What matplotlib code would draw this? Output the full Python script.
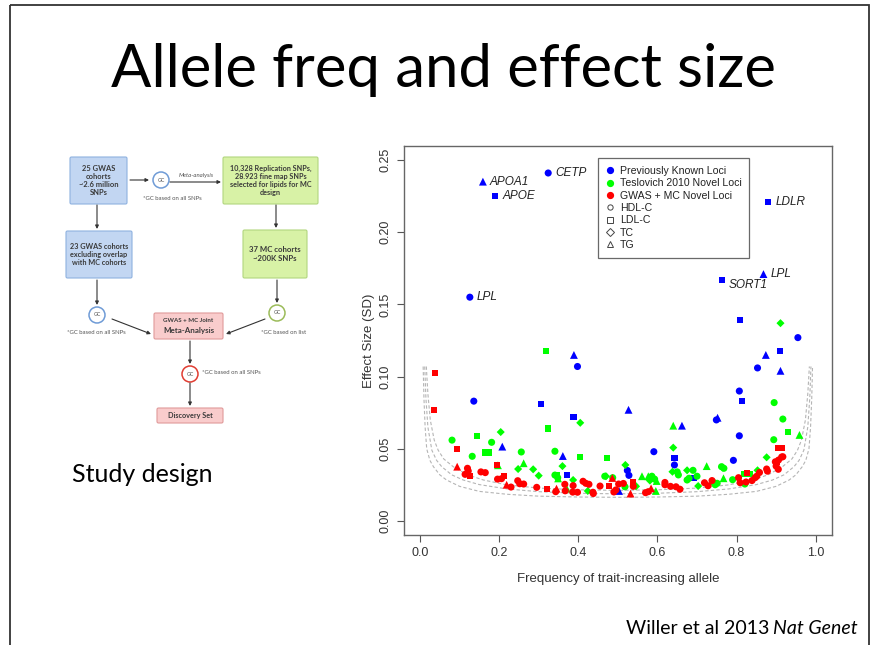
import numpy as np
import matplotlib.pyplot as plt
from matplotlib.patches import FancyBboxPatch, Circle, Rectangle
from matplotlib.lines import Line2D

# ---------------------------------------------------------------
# SNP data: frequency of trait-increasing allele, effect size (SD), trait
# ---------------------------------------------------------------
known_freq = [0.159, 0.190, 0.324, 0.880, 0.763, 0.868, 0.126, 0.389, 0.398, 0.136,
              0.305, 0.388, 0.808, 0.955, 0.874, 0.910, 0.853, 0.911, 0.807, 0.813,
              0.527, 0.662, 0.749, 0.752, 0.807, 0.208, 0.361, 0.591, 0.643, 0.643,
              0.792, 0.371, 0.524, 0.528, 0.693, 0.503]
known_beta = [0.235, 0.225, 0.241, 0.221, 0.167, 0.171, 0.155, 0.115, 0.107, 0.083,
              0.081, 0.072, 0.139, 0.127, 0.115, 0.118, 0.106, 0.104, 0.090, 0.083,
              0.077, 0.066, 0.070, 0.0715, 0.059, 0.0515, 0.045, 0.048, 0.0436, 0.0388,
              0.042, 0.032, 0.035, 0.0316, 0.030, 0.0208]
known_trait = ['TG', 'LDL', 'HDL', 'LDL', 'LDL', 'TG', 'HDL', 'TG', 'HDL', 'HDL',
               'LDL', 'LDL', 'LDL', 'HDL', 'TG', 'LDL', 'HDL', 'TG', 'HDL', 'LDL',
               'TG', 'TG', 'HDL', 'TG', 'HDL', 'TG', 'TG', 'HDL', 'LDL', 'HDL',
               'HDL', 'LDL', 'HDL', 'HDL', 'LDL', 'TG']
gene_labels = ['APOA1', 'APOE', 'CETP', 'LDLR', 'SORT1', 'LPL', 'LPL']

tes_freq = [0.318, 0.405, 0.323, 0.640, 0.895, 0.917, 0.911, 0.930, 0.959, 0.894,
            0.640, 0.876, 0.081, 0.145, 0.204, 0.181, 0.132, 0.165, 0.173, 0.256,
            0.341, 0.404, 0.472, 0.197, 0.262, 0.248, 0.286, 0.300, 0.341, 0.348,
            0.345, 0.349, 0.360, 0.387, 0.371, 0.424, 0.467, 0.470, 0.487, 0.519,
            0.518, 0.542, 0.546, 0.561, 0.577, 0.586, 0.593, 0.598, 0.581, 0.596,
            0.638, 0.650, 0.653, 0.675, 0.690, 0.675, 0.680, 0.700, 0.703, 0.7245,
            0.762, 0.768, 0.765, 0.767, 0.741, 0.751, 0.746, 0.790, 0.821, 0.820,
            0.834, 0.853]
tes_beta = [0.118, 0.068, 0.064, 0.066, 0.082, 0.0706, 0.137, 0.0614, 0.0596, 0.0563,
            0.0508, 0.0441, 0.056, 0.059, 0.0616, 0.0545, 0.0448, 0.0474, 0.0474, 0.0478,
            0.0483, 0.0445, 0.0436, 0.0386, 0.040, 0.036, 0.0358, 0.0314, 0.0318, 0.030,
            0.032, 0.0295, 0.038, 0.0284, 0.0224, 0.0208, 0.031, 0.031, 0.030, 0.0388,
            0.0237, 0.025, 0.024, 0.031, 0.031, 0.031, 0.029, 0.0277, 0.028, 0.0208,
            0.0341, 0.034, 0.0319, 0.0351, 0.0351, 0.0284, 0.0296, 0.031, 0.0242, 0.038,
            0.0376, 0.0365, 0.037, 0.0296, 0.0268, 0.0261, 0.0251, 0.0286, 0.0256, 0.0328,
            0.0328, 0.0351]
tes_trait = ['LDL', 'TC', 'LDL', 'TG', 'HDL', 'HDL', 'TC', 'LDL', 'TG', 'HDL',
             'TC', 'TC', 'HDL', 'LDL', 'TC', 'HDL', 'HDL', 'LDL', 'LDL', 'HDL',
             'HDL', 'LDL', 'LDL', 'TG', 'TG', 'TC', 'TC', 'TC', 'HDL', 'HDL',
             'LDL', 'TG', 'TC', 'TC', 'TG', 'TC', 'HDL', 'TC', 'HDL', 'TC',
             'HDL', 'TC', 'TC', 'TG', 'TG', 'HDL', 'HDL', 'TG', 'TC', 'TG',
             'TC', 'HDL', 'HDL', 'TC', 'HDL', 'HDL', 'HDL', 'HDL', 'TC', 'TG',
             'HDL', 'HDL', 'TC', 'TG', 'HDL', 'HDL', 'HDL', 'HDL', 'HDL', 'LDL',
             'LDL', 'TC']

new_freq = [0.038, 0.035, 0.093, 0.906, 0.915, 0.195, 0.094, 0.120, 0.122, 0.114,
            0.126, 0.154, 0.165, 0.196, 0.206, 0.213, 0.219, 0.230, 0.247, 0.252,
            0.262, 0.295, 0.321, 0.345, 0.343, 0.366, 0.367, 0.387, 0.386, 0.398,
            0.412, 0.419, 0.427, 0.437, 0.438, 0.455, 0.477, 0.490, 0.495, 0.502,
            0.514, 0.486, 0.532, 0.539, 0.539, 0.570, 0.577, 0.584, 0.619, 0.619,
            0.633, 0.647, 0.657, 0.719, 0.728, 0.738, 0.805, 0.809, 0.824, 0.827,
            0.839, 0.847, 0.851, 0.858, 0.876, 0.878, 0.898, 0.906, 0.914, 0.900,
            0.9055, 0.917, 0.901]
new_beta = [0.1027, 0.0767, 0.050, 0.0506, 0.0506, 0.039, 0.0376, 0.0365, 0.0346, 0.0323,
            0.0312, 0.034, 0.0335, 0.029, 0.0293, 0.0314, 0.0251, 0.0235, 0.0279, 0.0258,
            0.0256, 0.0233, 0.0224, 0.0224, 0.0203, 0.0254, 0.0209, 0.0245, 0.020, 0.0199,
            0.0275, 0.0261, 0.0254, 0.0199, 0.019, 0.0242, 0.0242, 0.0201, 0.0215, 0.0256,
            0.026, 0.0298, 0.019, 0.027, 0.024, 0.0196, 0.0203, 0.0226, 0.0267, 0.0251,
            0.024, 0.0237, 0.022, 0.0265, 0.0244, 0.028, 0.030, 0.0265, 0.027, 0.033,
            0.028, 0.030, 0.031, 0.0336, 0.036, 0.0345, 0.041, 0.0422, 0.0443, 0.038,
            0.0358, 0.0445, 0.041]
new_trait = ['LDL', 'LDL', 'LDL', 'LDL', 'LDL', 'LDL', 'TG', 'HDL', 'HDL', 'HDL',
             'LDL', 'HDL', 'HDL', 'HDL', 'HDL', 'LDL', 'TG', 'HDL', 'HDL', 'HDL',
             'HDL', 'HDL', 'LDL', 'TG', 'HDL', 'HDL', 'HDL', 'HDL', 'HDL', 'HDL',
             'HDL', 'HDL', 'HDL', 'HDL', 'HDL', 'HDL', 'LDL', 'HDL', 'HDL', 'HDL',
             'HDL', 'TG', 'TG', 'LDL', 'HDL', 'HDL', 'HDL', 'TG', 'HDL', 'HDL',
             'HDL', 'HDL', 'HDL', 'HDL', 'HDL', 'HDL', 'HDL', 'HDL', 'HDL', 'LDL',
             'HDL', 'HDL', 'HDL', 'HDL', 'HDL', 'HDL', 'HDL', 'HDL', 'HDL', 'HDL',
             'HDL', 'HDL', 'LDL']

# detectable effect size curves, left half (right half is the mirror image)
curve_outer_freq = [0.008, 0.010, 0.013, 0.017, 0.025, 0.034, 0.05, 0.067, 0.10, 0.15, 0.22, 0.30, 0.40, 0.50]
curve_outer_beta = [0.107, 0.085, 0.065, 0.050, 0.042, 0.0376, 0.032, 0.0284, 0.024, 0.0205, 0.0185, 0.0172, 0.0166, 0.0164]
curve_mid_freq = [0.012, 0.015, 0.020, 0.030, 0.042, 0.055, 0.080, 0.109, 0.15, 0.22, 0.30, 0.40, 0.50]
curve_mid_beta = [0.107, 0.085, 0.065, 0.049, 0.042, 0.0376, 0.032, 0.0284, 0.0252, 0.0222, 0.0203, 0.0192, 0.0188]
curve_inner_freq = [0.016, 0.020, 0.026, 0.036, 0.046, 0.060, 0.084, 0.12, 0.16, 0.22, 0.30, 0.40, 0.50]
curve_inner_beta = [0.107, 0.088, 0.070, 0.056, 0.049, 0.043, 0.0376, 0.032, 0.0284, 0.025, 0.0228, 0.0216, 0.0212]

group_names = ['Previously Known Loci', 'Teslovich 2010 Novel Loci', 'GWAS + MC Novel Loci']
group_colors = ['#0000ff', '#00ff00', '#ff0000']
trait_names = ['HDL-C', 'LDL-C', 'TC', 'TG']
trait_marker = {'HDL': 'o', 'LDL': 's', 'TC': 'D', 'TG': '^'}
trait_size = {'HDL': 26, 'LDL': 20, 'TC': 17, 'TG': 32}

plot_font = 'Liberation Sans'
slide_font = 'Lato'

fig = plt.figure(figsize=(8.72, 6.45), dpi=100)

# slide layer in pixel coordinates
bg = fig.add_axes([0, 0, 1, 1])
bg.set_xlim(0, 872)
bg.set_ylim(645, 0)
bg.axis('off')
bg.add_patch(Rectangle((10, 5), 859, 660, fill=False, lw=1.3, ec='#333333'))

bg.text(443, 70, 'Allele freq and effect size', ha='center', va='center',
        fontsize=43, family=slide_font, color='black')
bg.text(72, 474, 'Study design', ha='left', va='center', fontsize=18,
        family=slide_font, color='black')

# citation: italic journal name right-aligned, plain part placed just before it
journal = bg.text(858, 628, 'Nat Genet', ha='right', va='center', fontsize=14,
                  family=slide_font, style='italic', color='black')
renderer = fig.canvas.get_renderer()
jx0 = journal.get_window_extent(renderer).x0
cite_x = bg.transData.inverted().transform((jx0 - 4, 0))[0]
bg.text(cite_x, 628, 'Willer et al 2013', ha='right', va='center', fontsize=14,
        family=slide_font, color='black')

# --- study design flowchart ---
box_style = {
    'blue': ('#c2d6f2', '#8fb2e0'),
    'green': ('#d8f2a6', '#b2d67f'),
    'pink': ('#f9cccc', '#e09a9a'),
}


def box(x0, y0, x1, y1, kind, label, size=5.2):
    fc, ec = box_style[kind]
    bg.add_patch(FancyBboxPatch((x0, y0), x1 - x0, y1 - y0,
                                boxstyle='round,pad=0,rounding_size=1.5',
                                fc=fc, ec=ec, lw=0.8))
    if label:
        bg.text((x0 + x1) / 2, (y0 + y1) / 2, label, ha='center', va='center',
                fontsize=size, fontweight='bold', color='#3a3a3a',
                family=slide_font, linespacing=1.2)


def gc(x, y, ec):
    bg.add_patch(Circle((x, y), 8, fc='white', ec=ec, lw=1.1))
    bg.text(x, y, 'GC', ha='center', va='center', fontsize=3.8, color='#555555',
            family=slide_font)


def arrow(x0, y0, x1, y1):
    bg.annotate('', xy=(x1, y1), xytext=(x0, y0),
                arrowprops=dict(arrowstyle='-|>', color='#333333', lw=0.8,
                                mutation_scale=5, shrinkA=0, shrinkB=0))


def note(x, y, s, ha='center'):
    bg.text(x, y, s, ha=ha, va='center', fontsize=4.3, color='#555555',
            family=slide_font)


box(70, 157, 127, 204, 'blue', '25 GWAS\ncohorts\n~2.6 million\nSNPs', size=5.4)
box(223, 157, 318, 204, 'green',
    '10,328 Replication SNPs,\n28.923 fine map SNPs\nselected for lipids for MC\ndesign')
box(66, 231, 132, 278, 'blue', '23 GWAS cohorts\nexcluding overlap\nwith MC cohorts')
box(243, 230, 307, 278, 'green', '37 MC cohorts\n~200K SNPs', size=5.6)
box(154, 313, 223, 339, 'pink', '')
bg.text(188.5, 321, 'GWAS + MC Joint', ha='center', va='center', fontsize=4.4,
        fontweight='bold', color='#3a3a3a', family=slide_font)
bg.text(188.5, 331, 'Meta-Analysis', ha='center', va='center', fontsize=5.8,
        fontweight='bold', color='#3a3a3a', family=slide_font)
box(157, 408, 223, 423, 'pink', 'Discovery Set', size=5.2)

gc(161, 180, '#6f9bd6')
gc(97, 315, '#6f9bd6')
gc(277, 313, '#9bbb59')
gc(190, 374, '#e03c31')

arrow(130, 180, 149, 180)
arrow(170, 182, 221, 182)
arrow(97, 205, 97, 229)
arrow(276, 205, 276, 228)
arrow(97, 280, 97, 305)
arrow(277, 280, 277, 303)
arrow(112, 319, 151, 334)
arrow(265, 319, 226, 334)
arrow(190, 341, 190, 364)
arrow(190, 383, 190, 406)

bg.text(196, 175, 'Meta-analysis', ha='center', va='center', fontsize=4.3,
        style='italic', color='#555555', family=slide_font)
note(172, 198, '*GC based on all SNPs')
note(96, 332, '*GC based on all SNPs')
note(284, 332, '*GC based on list')
note(202, 373, '*GC based on all SNPs', ha='left')

# --- scatter of effect size vs allele frequency ---
ax = fig.add_axes([404 / 872, 110 / 645, 428 / 872, 389 / 645])
ax.set_xlim(-0.0404, 1.0412)
ax.set_ylim(-0.0097, 0.2597)

for f, b in [(curve_outer_freq, curve_outer_beta),
             (curve_mid_freq, curve_mid_beta),
             (curve_inner_freq, curve_inner_beta)]:
    f = np.array(f)
    b = np.array(b)
    xs = np.concatenate([f, 1 - f[::-1][1:]])
    ys = np.concatenate([b, b[::-1][1:]])
    ax.plot(xs, ys, ls=(0, (3, 2)), color='#b5b5b5', lw=0.8, zorder=1)

groups = [(known_freq, known_beta, known_trait),
          (tes_freq, tes_beta, tes_trait),
          (new_freq, new_beta, new_trait)]
for (fr, be, tr), col in zip(groups, group_colors):
    fr = np.array(fr)
    be = np.array(be)
    tr = np.array(tr)
    for t, m in trait_marker.items():
        sel = tr == t
        ax.scatter(fr[sel], be[sel], marker=m, s=trait_size[t], c=col,
                   edgecolors='none', zorder=3)

for i, name in enumerate(gene_labels):
    dy = -4 if name == 'SORT1' else 0
    ax.annotate(name, (known_freq[i], known_beta[i]), xytext=(5, dy),
                textcoords='offset points', ha='left', va='center',
                fontsize=8.5, style='italic', family=plot_font, color='#222222')

ax.set_xticks([0, 0.2, 0.4, 0.6, 0.8, 1.0])
ax.set_xticklabels(['0.0', '0.2', '0.4', '0.6', '0.8', '1.0'])
ax.set_yticks([0, 0.05, 0.10, 0.15, 0.20, 0.25])
ax.set_yticklabels(['0.00', '0.05', '0.10', '0.15', '0.20', '0.25'],
                   rotation=90, va='center')
ax.tick_params(direction='out', length=5, width=0.8, color='#555555',
               labelsize=9, labelcolor='#333333', pad=4)
for lab in ax.get_xticklabels() + ax.get_yticklabels():
    lab.set_family(plot_font)
for sp in ax.spines.values():
    sp.set_color('#666666')
    sp.set_linewidth(1.0)

ax.set_xlabel('Frequency of trait-increasing allele', fontsize=9.5,
              family=plot_font, color='#333333', labelpad=10)
ax.set_ylabel('Effect Size (SD)', fontsize=9.5, family=plot_font,
              color='#333333', labelpad=3)

handles = [Line2D([], [], ls='none', marker='o', color=c, markersize=4.2)
           for c in group_colors]
handles += [Line2D([], [], ls='none', marker=m, mfc='none', mec='#444444',
                   markersize=ms, mew=0.7)
            for m, ms in zip(['o', 's', 'D', '^'], [3.8, 3.8, 3.6, 4.3])]
leg = ax.legend(handles, group_names + trait_names, loc='upper left',
                bbox_to_anchor=(598 / 872, 1 - 158 / 645),
                bbox_transform=fig.transFigure, frameon=True, fancybox=False,
                handlelength=0.7, handletextpad=0.6,
                labelspacing=0.22, borderpad=0.75, borderaxespad=0,
                prop={'family': plot_font, 'size': 7.6})
leg.get_frame().set_edgecolor('#444444')
leg.get_frame().set_linewidth(0.9)
for txt in leg.get_texts():
    txt.set_color('#222222')

fig.savefig('out.png', dpi=100, facecolor='white')
